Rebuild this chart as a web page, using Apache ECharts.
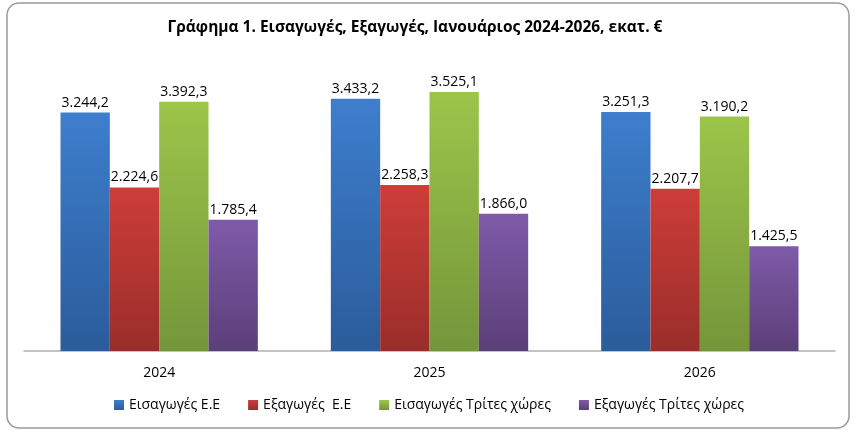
<!DOCTYPE html>
<html>
<head>
<meta charset="utf-8">
<script src="https://cdn.jsdelivr.net/npm/echarts@6/dist/echarts.min.js"></script>
<style>
  html, body { margin: 0; padding: 0; background: #fff; }
  #chart { width: 858px; height: 432px; }
</style>
</head>
<body>
<div id="chart"></div>
<script>
const years = ['2024', '2025', '2026'];
const importsEU = [3244.2, 3433.2, 3251.3];
const exportsEU = [2224.6, 2258.3, 2207.7];
const importsThird = [3392.3, 3525.1, 3190.2];
const exportsThird = [1785.4, 1866.0, 1425.5];
const seriesNames = ['Εισαγωγές Ε.Ε', 'Εξαγωγές  Ε.Ε', 'Εισαγωγές Τρίτες χώρες', 'Εξαγωγές Τρίτες χώρες'];

// top / bottom shades of each bar
const shades = [
  ['#3d7ecd', '#2b5c9b'],
  ['#cd3d39', '#9a2d2a'],
  ['#9cc54a', '#75953a'],
  ['#7f5aa9', '#5b3f78']
];

const fmt = v => {
  const parts = v.toFixed(1).split('.');
  return parts[0].replace(/\B(?=(\d{3})+(?!\d))/g, '.') + ',' + parts[1];
};

const mkSeries = (name, data, i) => ({
  name: name,
  type: 'bar',
  data: data,
  barGap: '0%',
  barCategoryGap: '27%',
  itemStyle: {
    color: new echarts.graphic.LinearGradient(0, 0, 0, 1, [
      { offset: 0, color: shades[i][0] },
      { offset: 1, color: shades[i][1] }
    ])
  },
  label: {
    show: true,
    position: 'top',
    distance: 3,
    color: '#000',
    fontFamily: 'Open Sans',
    fontSize: 14,
    formatter: p => fmt(p.value)
  }
});

const chart = echarts.init(document.getElementById('chart'));
chart.setOption({
  animation: false,
  color: shades.map(s => s[0]),
  title: {
    text: 'Γράφημα 1. Εισαγωγές, Εξαγωγές, Ιανουάριος 2024-2026, εκατ. €',
    left: 410,
    textAlign: 'center',
    top: 15,
    textStyle: { fontFamily: 'Open Sans', fontWeight: 'bold', fontSize: 15.5, color: '#000' }
  },
  graphic: [{
    type: 'rect',
    shape: { x: 7, y: 3, width: 842, height: 425, r: 12 },
    style: { fill: 'none', stroke: '#9a9a9a', lineWidth: 1.5 },
    z: -1
  }],
  legend: {
    bottom: 15,
    left: 'center',
    itemWidth: 10,
    itemHeight: 10,
    itemGap: 28,
    icon: 'rect',
    textStyle: { fontFamily: 'Open Sans', fontSize: 14, color: '#000' },
    data: seriesNames
  },
  grid: { left: 24, right: 23, top: 57, bottom: 81, containLabel: false },
  xAxis: {
    type: 'category',
    data: years,
    axisLine: { lineStyle: { color: '#b0b0b0', width: 1.5 } },
    axisTick: { show: false },
    axisLabel: { color: '#000', fontFamily: 'Open Sans', fontSize: 14, margin: 15 }
  },
  yAxis: {
    type: 'value',
    min: 0,
    max: 4000,
    show: false,
    splitLine: { show: false }
  },
  series: [
    mkSeries(seriesNames[0], importsEU, 0),
    mkSeries(seriesNames[1], exportsEU, 1),
    mkSeries(seriesNames[2], importsThird, 2),
    mkSeries(seriesNames[3], exportsThird, 3)
  ]
});
</script>
</body>
</html>
